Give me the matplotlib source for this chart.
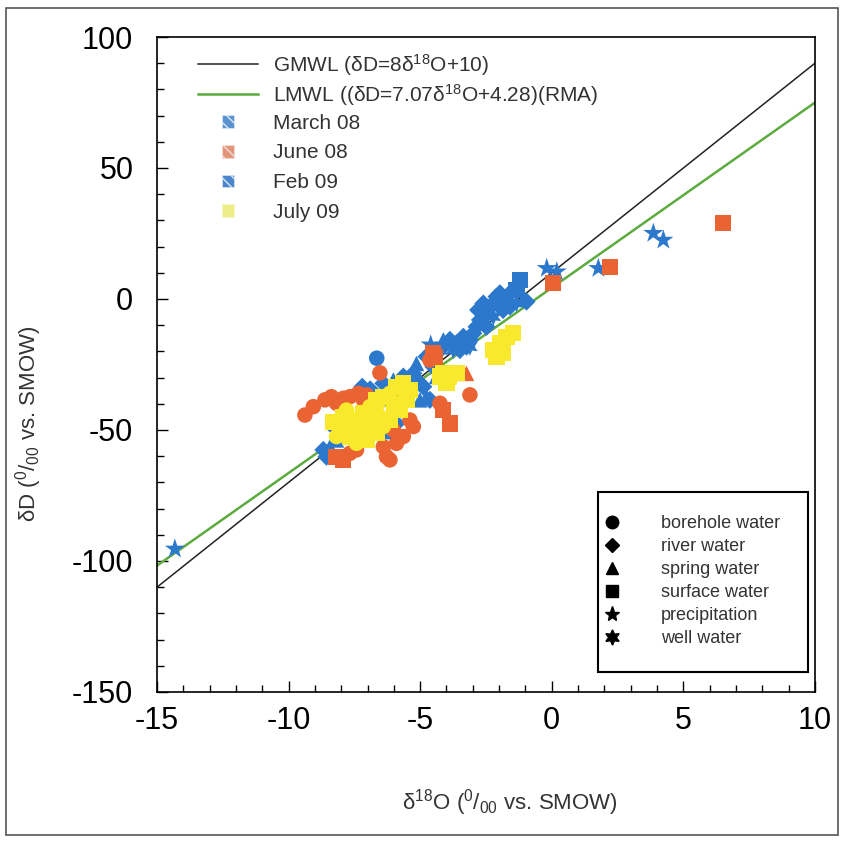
import matplotlib
matplotlib.use("Agg")
import matplotlib.pyplot as plt
import numpy as np
from matplotlib.lines import Line2D
from matplotlib.patches import Patch, Rectangle
from matplotlib.legend_handler import HandlerPatch
from matplotlib.ticker import MultipleLocator

plt.rcParams['font.family'] = ['Liberation Sans', 'DejaVu Sans']
plt.rcParams['mathtext.fontset'] = 'custom'
plt.rcParams['mathtext.rm'] = 'Liberation Sans'
plt.rcParams['mathtext.it'] = 'Liberation Sans:italic'
plt.rcParams['axes.unicode_minus'] = False

# sample kinds: bh borehole, rv river, sp spring, sf surface, pr precipitation, wl well
mar08_x = [-14.32, 3.86, 4.24, 1.77, -0.19, 0.19, -1.21, -1.34, -6.65, -2.10, -1.97, -1.84,
           -2.35, -2.48, -2.73, -2.86, -2.98, -3.11, -3.36, -3.62, -3.87, -4.12, -1.72, -1.59]
mar08_y = [-95.4, 25.1, 22.5, 11.7, 11.7, 10.4, 7.2, 3.4, -22.6, 0.9, 2.2, -1.7,
           -2.9, -5.5, -8.0, -10.6, -13.1, -15.6, -14.4, -16.9, -15.6, -18.2, -0.4, 2.2]
mar08_kind = ['pr', 'pr', 'pr', 'pr', 'pr', 'pr', 'sf', 'sf', 'bh', 'rv', 'rv', 'rv',
              'rv', 'rv', 'rv', 'rv', 'rv', 'rv', 'rv', 'rv', 'rv', 'rv', 'rv', 'rv']

jun08_x = [6.52, 2.21, 0.06, -3.87, -4.44, -3.24, -3.11, -6.53, -9.38, -9.06, -8.62, -8.37,
           -8.18, -7.92, -7.67, -7.35, -7.04, -7.16, -8.18, -7.92, -7.67, -7.42, -6.40, -6.28,
           -6.15, -5.90, -5.64, -5.39, -5.26, -6.02, -4.25, -4.12, -4.63, -4.50]
jun08_y = [28.9, 12.3, 6.0, -47.5, -22.0, -28.4, -36.6, -28.2, -44.3, -41.1, -38.5, -37.3,
           -39.8, -37.9, -37.3, -36.0, -36.6, -38.5, -60.2, -61.4, -58.9, -57.6, -56.4, -60.2,
           -61.4, -55.1, -52.5, -46.2, -48.7, -50.0, -39.8, -42.4, -23.3, -20.7]
jun08_kind = ['sf', 'sf', 'sf', 'sf', 'sf', 'sp', 'bh', 'bh', 'bh', 'bh', 'bh', 'bh',
              'bh', 'bh', 'bh', 'bh', 'bh', 'bh', 'sf', 'sf', 'bh', 'bh', 'bh', 'bh',
              'bh', 'bh', 'bh', 'bh', 'bh', 'bh', 'bh', 'sf', 'bh', 'sf']

feb09_x = [-4.25, -3.74, -3.24, -2.48, -2.22, -2.60, -2.80, -1.85, -1.59, -1.34, -0.96, -4.12,
           -3.49, -3.11, -4.38, -4.76, -5.14, -4.50, -4.38, -4.88, -4.76, -5.01, -5.26, -5.64,
           -6.02, -6.40, -4.63, -5.01, -5.26, -8.68, -8.43, -8.56, -8.18, -7.92, -8.18, -6.15,
           -5.90, -6.28, -4.60, -6.90, -7.20]
feb09_y = [-19.5, -19.5, -18.2, -10.6, -6.7, -1.7, -4.2, -4.2, -2.9, -1.6, -1.0, -15.6,
           -19.5, -18.2, -19.5, -22.0, -24.6, -25.8, -29.6, -33.5, -37.3, -32.2, -30.9, -29.6,
           -30.9, -32.2, -38.5, -38.5, -28.4, -57.6, -56.4, -60.2, -53.8, -51.3, -50.0, -48.7,
           -47.5, -50.6, -17.5, -34.5, -33.5]
feb09_kind = ['wl', 'wl', 'rv', 'rv', 'wl', 'rv', 'rv', 'rv', 'rv', 'wl', 'rv', 'sp',
              'rv', 'wl', 'rv', 'rv', 'sp', 'rv', 'sp', 'rv', 'sp', 'rv', 'wl', 'rv',
              'sp', 'rv', 'rv', 'sp', 'rv', 'rv', 'sp', 'rv', 'sp', 'rv', 'rv', 'sp',
              'rv', 'sp', 'pr', 'rv', 'rv']

jul09_x = [-7.92, -7.67, -7.42, -7.16, -6.91, -6.66, -6.40, -6.15, -5.90, -5.64, -5.39,
           -7.67, -7.42, -7.04, -6.66, -6.40, -6.15, -5.77, -5.52,
           -7.80, -8.05, -7.16, -8.18, -6.90, -6.60, -7.30, -6.00, -8.30,
           -4.25, -4.12, -3.87, -3.62, -4.00, -2.23, -1.97, -1.72, -1.47, -2.10, -1.85]
jul09_y = [-44.9, -48.7, -46.2, -43.6, -41.1, -38.5, -37.3, -36.0, -33.5, -32.2, -34.7,
           -52.5, -55.1, -53.8, -51.3, -48.7, -46.2, -42.4, -38.5,
           -42.4, -50.0, -50.0, -52.5, -46.0, -44.0, -49.0, -40.0, -47.0,
           -29.6, -28.4, -30.9, -28.4, -32.2, -19.5, -16.9, -14.4, -13.1, -22.0, -20.7]
jul09_kind = ['sf', 'bh', 'sf', 'sf', 'bh', 'sf', 'sf', 'bh', 'sf', 'sf', 'sf',
              'sf', 'bh', 'sf', 'sf', 'bh', 'sf', 'sf', 'sf',
              'bh', 'sf', 'sf', 'bh', 'sf', 'bh', 'sf', 'sf', 'sf',
              'sf', 'sf', 'bh', 'sf', 'sf', 'sf', 'sf', 'sf', 'sf', 'sf', 'sf']

# meteoric water lines
gmwl_slope, gmwl_icpt = 8.0, 10.0
lmwl_slope, lmwl_icpt = 7.07, 4.28

kinds = ['bh', 'rv', 'sp', 'sf', 'pr', 'wl']
kind_names = ['borehole water', 'river water', 'spring water', 'surface water',
              'precipitation', 'well water']
markers = {'bh': 'o', 'rv': 'D', 'sp': '^', 'sf': 's', 'pr': '*', 'wl': (6, 1, 0)}
sizes = {'bh': 125, 'rv': 85, 'sp': 125, 'sf': 135, 'pr': 230, 'wl': 170}

BLUE = '#2c78cc'
ORANGE = '#ea6433'
YELLOW = '#f8e92c'
GREEN = '#5dab3f'

fig = plt.figure(figsize=(8.44, 8.41), dpi=100)
ax = fig.add_axes([0.186, 0.1772, 0.7796, 0.7788])

xs = np.array([-15, 10])
ax.plot(xs, gmwl_slope * xs + gmwl_icpt, color='#222222', lw=1.1, zorder=2)
ax.plot(xs, lmwl_slope * xs + lmwl_icpt, color=GREEN, lw=1.8, zorder=2)


def draw_season(x, y, kind, color):
    x = np.array(x)
    y = np.array(y)
    kind = np.array(kind)
    for k in kinds:
        m = kind == k
        if m.any():
            ax.scatter(x[m], y[m], marker=markers[k], s=sizes[k], c=color,
                       edgecolors='none', zorder=3)


draw_season(mar08_x, mar08_y, mar08_kind, BLUE)
draw_season(feb09_x, feb09_y, feb09_kind, BLUE)
draw_season(jun08_x, jun08_y, jun08_kind, ORANGE)
draw_season(jul09_x, jul09_y, jul09_kind, YELLOW)

ax.set_xlim(-15, 10)
ax.set_ylim(-150, 100)
ax.xaxis.set_major_locator(MultipleLocator(5))
ax.xaxis.set_minor_locator(MultipleLocator(1))
ax.yaxis.set_major_locator(MultipleLocator(50))
ax.yaxis.set_minor_locator(MultipleLocator(10))
ax.tick_params(which='both', direction='in', top=False, right=False, width=1)
ax.tick_params(which='major', length=8, labelsize=22)
ax.tick_params(axis='x', which='major', pad=10)
ax.tick_params(axis='y', which='major', pad=17)
ax.tick_params(which='minor', length=5)
for sp in ax.spines.values():
    sp.set_linewidth(1.2)

ax.set_xlabel('δ$^{18}$O ($^{0}$/$_{00}$ vs. SMOW)', fontsize=16, color='#333333')
ax.set_ylabel('δD ($^{0}$/$_{00}$ vs. SMOW)', fontsize=16, color='#333333')
ax.xaxis.set_label_coords(0.536, -0.145)
ax.yaxis.set_label_coords(-0.172, 0.41)


# small hatched squares for the season entries
def small_square(legend, orig_handle, xdescent, ydescent, width, height, fontsize):
    s = 0.62 * fontsize
    return Rectangle((width / 2 - s / 2 - xdescent, height / 2 - s / 2 - ydescent), s, s)


line_handles = [
    Line2D([], [], color='#222222', lw=1.1),
    Line2D([], [], color=GREEN, lw=1.8),
]
line_labels = [
    'GMWL (δD=8δ$^{18}$O+10)',
    'LMWL ((δD=7.07δ$^{18}$O+4.28)(RMA)',
]
season_handles = [
    Patch(facecolor='#5b92d2', edgecolor='#dfe9f6', hatch='\\\\\\', lw=0.5),
    Patch(facecolor='#e2957a', edgecolor='#f6dfd6', hatch='\\\\\\', lw=0.5),
    Patch(facecolor='#4a86cb', edgecolor='#dbe6f4', hatch='\\\\\\', lw=0.5),
    Patch(facecolor='#eeee88', edgecolor='#f6f6c8', lw=0.5),
]
season_labels = ['March 08', 'June 08', 'Feb 09', 'July 09']

common = dict(loc='upper left', frameon=False, fontsize=15, handlelength=2.9,
              handletextpad=0.72, borderpad=0, borderaxespad=0)
leg_lines = ax.legend(line_handles, line_labels, bbox_to_anchor=(0.062, 0.9771),
                      labelspacing=0.19, **common)
ax.add_artist(leg_lines)
leg_seasons = ax.legend(season_handles, season_labels, bbox_to_anchor=(0.062, 0.883),
                        labelspacing=0.52,
                        handler_map={Patch: HandlerPatch(patch_func=small_square)},
                        **common)
ax.add_artist(leg_seasons)
for leg in (leg_lines, leg_seasons):
    for t in leg.get_texts():
        t.set_color('#333333')

# sample type key in its own box
ax.add_patch(Rectangle((0.670, 0.031), 0.319, 0.274, transform=ax.transAxes,
                       fill=False, edgecolor='black', lw=1.5, zorder=4))
type_handles = [Line2D([], [], ls='none', marker=markers[k], color='black',
                       markersize=9 if k not in ('pr', 'wl') else 11) for k in kinds]
type_handles[1].set_markersize(7)
leg_types = ax.legend(type_handles, kind_names, loc='upper left',
                      bbox_to_anchor=(0.678, 0.270), frameon=False, fontsize=13,
                      handlelength=1.0, handletextpad=2.2, labelspacing=0.33,
                      borderpad=0, borderaxespad=0)
for t in leg_types.get_texts():
    t.set_color('#333333')

# frame around the whole figure
fig.add_artist(Rectangle((0.007, 0.007), 0.986, 0.983, transform=fig.transFigure,
                         fill=False, edgecolor='#555555', lw=1.2))

fig.savefig('out.png', dpi=100)
